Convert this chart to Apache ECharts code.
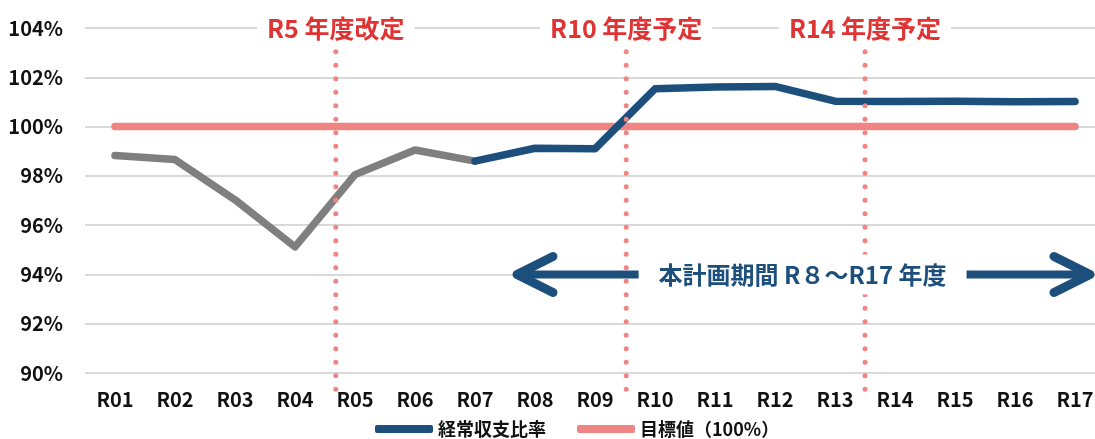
<!DOCTYPE html>
<html>
<head>
<meta charset="utf-8">
<script src="https://cdn.jsdelivr.net/npm/echarts@6/dist/echarts.min.js"></script>
<style>html,body{margin:0;padding:0;background:#fff}#c{width:1095px;height:439px}</style>
</head>
<body>
<div id="c"></div>
<script>
const categories = ['R01','R02','R03','R04','R05','R06','R07','R08','R09','R10','R11','R12','R13','R14','R15','R16','R17'];
const pastValues = [98.83, 98.66, 97.03, 95.12, 98.05, 99.05, 98.6, '-', '-', '-', '-', '-', '-', '-', '-', '-', '-'];
const planValues = ['-', '-', '-', '-', '-', '-', 98.6, 99.12, 99.1, 101.53, 101.61, 101.63, 101.03, 101.02, 101.03, 101.01, 101.02];
const targetValues = [100, 100, 100, 100, 100, 100, 100, 100, 100, 100, 100, 100, 100, 100, 100, 100, 100];
const yTicks = [90, 92, 94, 96, 98, 100, 102, 104];
const markerLabels = ['R5 年度改定', 'R10 年度予定', 'R14 年度予定'];
const markerPositions = [4.18, 9.02, 13.0];
const markerSpan = [103.04, 89.34];
const periodLabel = '本計画期間 R８～R17 年度';
const periodRange = [7.2, 16.75];
const periodLevel = 94;
const periodLabelPos = 11.96;

const FONT = '"Noto Sans CJK JP", "Noto Sans", sans-serif';
const BLUE = '#1d4f7c', SALMON = '#ef8482', GRAY = '#7f7f7f', RED = '#e03434';

const series = [
  { name: 'past', type: 'line', data: pastValues, showSymbol: false, z: 3,
    lineStyle: { color: GRAY, width: 7.5, cap: 'round', join: 'round' }, itemStyle: { color: GRAY } },
  { name: '経常収支比率', type: 'line', data: planValues, showSymbol: false, z: 3,
    lineStyle: { color: BLUE, width: 7.5, cap: 'round', join: 'round' }, itemStyle: { color: BLUE } },
  { name: '目標値（100%）', type: 'line', data: targetValues, showSymbol: false, z: 2,
    lineStyle: { color: SALMON, width: 7.5, cap: 'round' }, itemStyle: { color: SALMON } }
];

// arrow shaft
series.push({ type: 'line', xAxisIndex: 1, data: [[periodRange[0], periodLevel], [periodRange[1], periodLevel]],
  showSymbol: false, silent: true, clip: false, z: 4,
  lineStyle: { color: BLUE, width: 8, cap: 'butt' } });
// arrow heads
const armX = 0.6, armY = 0.73;
series.push({ type: 'line', xAxisIndex: 1, data: [[periodRange[0] + armX, periodLevel + armY], [periodRange[0], periodLevel], [periodRange[0] + armX, periodLevel - armY]],
  showSymbol: false, silent: true, clip: false, z: 4,
  lineStyle: { color: BLUE, width: 9, cap: 'round', join: 'round' } });
series.push({ type: 'line', xAxisIndex: 1, data: [[periodRange[1] - armX, periodLevel + armY], [periodRange[1], periodLevel], [periodRange[1] - armX, periodLevel - armY]],
  showSymbol: false, silent: true, clip: false, z: 4,
  lineStyle: { color: BLUE, width: 9, cap: 'round', join: 'round' } });

// dotted vertical markers
markerPositions.forEach(function (p) {
  series.push({ type: 'line', xAxisIndex: 1, data: [[p, markerSpan[0]], [p, markerSpan[1]]],
    showSymbol: false, silent: true, clip: false, z: 5,
    lineStyle: { color: SALMON, width: 5, type: [0.1, 13.4], cap: 'round' } });
});

// marker labels
series.push({ type: 'scatter', xAxisIndex: 1, symbolSize: 0, silent: true, clip: false, z: 10,
  itemStyle: { opacity: 1 },
  data: markerPositions.map(function (p, i) { return { value: [p, 104], label: { formatter: markerLabels[i] } }; }),
  label: { show: true, position: 'inside', color: RED, fontFamily: FONT, fontSize: 25, fontWeight: 'bold',
    backgroundColor: '#fff', padding: [2, 10], opacity: 1 } });

// period label
series.push({ type: 'scatter', xAxisIndex: 1, symbolSize: 0, silent: true, clip: false, z: 10,
  itemStyle: { opacity: 1 },
  data: [{ value: [periodLabelPos, periodLevel], label: { formatter: periodLabel } }],
  label: { show: true, position: 'inside', color: BLUE, fontFamily: FONT, fontSize: 24, fontWeight: 'bold',
    backgroundColor: '#fff', padding: [8, 20], opacity: 1 } });

const chart = echarts.init(document.getElementById('c'), null, { renderer: 'canvas' });
chart.setOption({
  animation: false,
  backgroundColor: '#fff',
  grid: { left: 85, width: 1020, top: 28, bottom: 66, containLabel: false, outerBoundsMode: 'none' },
  legend: {
    data: ['経常収支比率', '目標値（100%）'],
    left: 370, top: 415, icon: 'roundRect', itemWidth: 58, itemHeight: 8, itemGap: 31,
    textStyle: { fontFamily: FONT, fontSize: 18, fontWeight: 'bold', color: '#111' }
  },
  xAxis: [
    { type: 'category', data: categories, boundaryGap: true,
      axisLine: { show: false }, axisTick: { show: false },
      axisLabel: { margin: 16, fontFamily: FONT, fontSize: 20, fontWeight: 'bold', color: '#111', interval: 0 } },
    { type: 'value', min: 0, max: 17, show: false }
  ],
  yAxis: {
    type: 'value', min: yTicks[0], max: yTicks[yTicks.length - 1], interval: 2,
    axisLine: { show: false }, axisTick: { show: false },
    splitLine: { lineStyle: { color: '#d9d9d9', width: 2 } },
    axisLabel: { margin: 22, fontFamily: FONT, fontSize: 20, fontWeight: 'bold', color: '#111',
      formatter: function (v) { return v + '%'; } }
  },
  series: series
});
</script>
</body>
</html>
